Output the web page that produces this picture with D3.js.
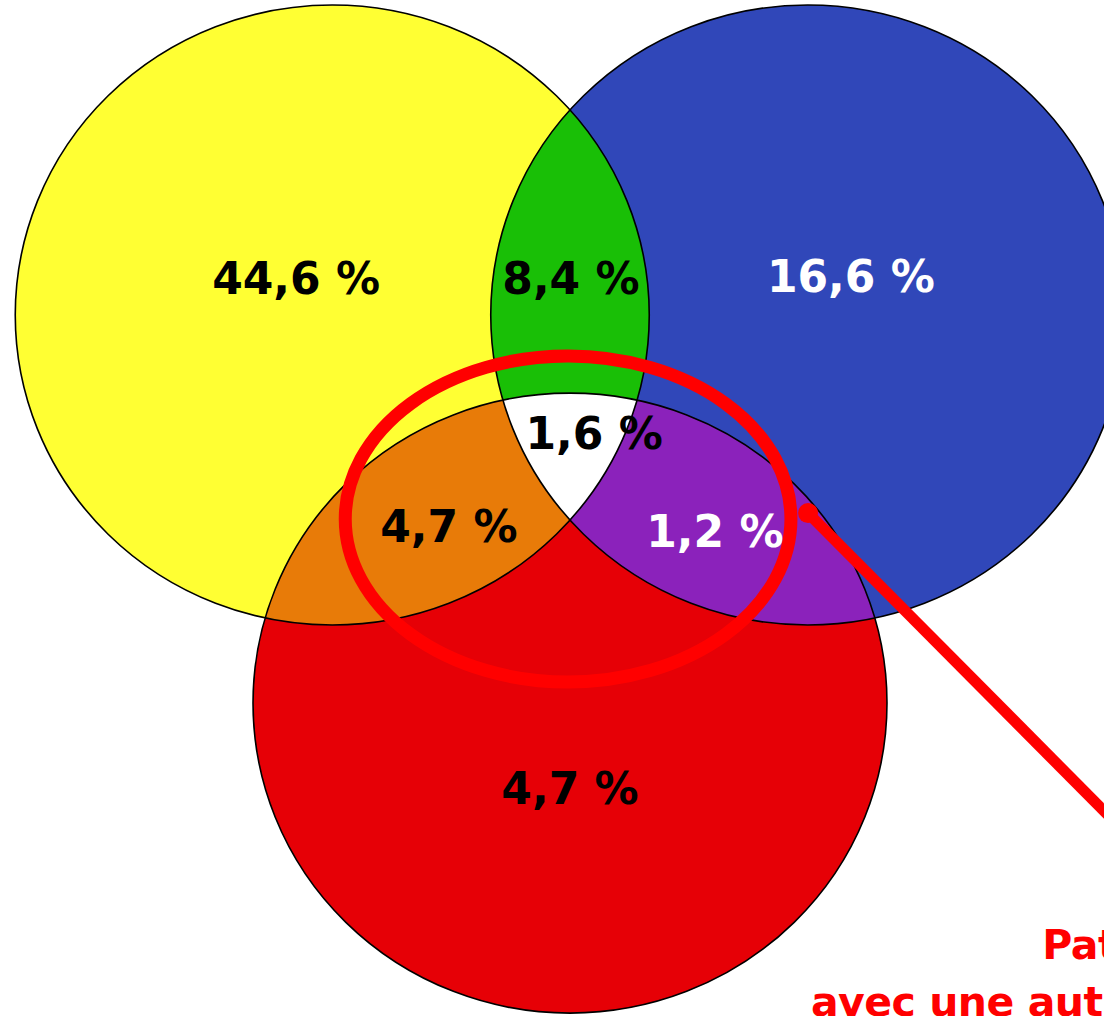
<!DOCTYPE html>
<html>
<head>
<meta charset="utf-8">
<script src="https://cdn.jsdelivr.net/npm/d3@7"></script>
<style>
  html, body { margin: 0; padding: 0; background: #ffffff; overflow: hidden; }
  svg { display: block; }
</style>
</head>
<body>
<svg id="chart" width="1104" height="1016"></svg>
<script>
// ---------------- data ----------------
const setNames   = ["Y", "B", "R"];
const setColors  = ["#FFFF33", "#3047B9", "#E60006"];

const regionKeys   = ["Y", "B", "R", "YB", "YR", "BR", "YBR"];
const regionValues = [44.6, 16.6, 4.7, 8.4, 4.7, 1.2, 1.6];
const regionColors = ["#FFFF33", "#3047B9", "#E60006", "#19BF06", "#E87B08", "#8B22BB", "#FFFFFF"];
const regionTextColors = ["#000", "#fff", "#000", "#000", "#000", "#fff", "#000"];

const annotationLines = ["Patients", "avec une autre pathologie"];

// ---------------- layout (abstract units) ----------------
// circle centres in units of one radius
const setCx = [-0.75, 0.75, 0.0];
const setCy = [0.0, 0.0, 1.252];
// label anchor points for each region
const labelX = [-0.864, 0.886, 0.0, 0.003, -0.382, 0.457, 0.076];
const labelY = [-0.119, -0.126, 1.526, -0.119, 0.681, 0.697, 0.381];

const svg = d3.select("#chart");
const x = d3.scaleLinear().domain([-1, 1]).range([570 - 317, 570 + 317]);
const y = d3.scaleLinear().domain([-1, 1]).range([315 - 310, 315 + 310]);
const rx = x(1) - x(0), ry = y(1) - y(0);

const fr = d3.formatLocale({decimal: ",", thousands: " ", grouping: [3], currency: ["", " €"]});
const fmt = v => fr.format(".1f")(v) + " %";

const defs = svg.append("defs");
setNames.forEach((s, i) => {
  defs.append("clipPath").attr("id", "clip" + s)
    .append("ellipse")
    .attr("cx", x(setCx[i])).attr("cy", y(setCy[i]))
    .attr("rx", rx).attr("ry", ry);
});

const idx = k => setNames.indexOf(k);
function ellipseOf(g, k, fill) {
  const i = idx(k);
  return g.append("ellipse")
    .attr("cx", x(setCx[i])).attr("cy", y(setCy[i]))
    .attr("rx", rx).attr("ry", ry)
    .attr("fill", fill);
}

const fills = svg.append("g");
// single sets
regionKeys.forEach((k, r) => {
  const sets = k.split("");
  if (sets.length === 1) {
    ellipseOf(fills, k, regionColors[r]);
  }
});
// pair intersections
regionKeys.forEach((k, r) => {
  const sets = k.split("");
  if (sets.length === 2) {
    const g = fills.append("g").attr("clip-path", "url(#clip" + sets[0] + ")");
    ellipseOf(g, sets[1], regionColors[r]);
  }
});
// triple intersection
regionKeys.forEach((k, r) => {
  const sets = k.split("");
  if (sets.length === 3) {
    const g1 = fills.append("g").attr("clip-path", "url(#clip" + sets[0] + ")");
    const g2 = g1.append("g").attr("clip-path", "url(#clip" + sets[1] + ")");
    ellipseOf(g2, sets[2], regionColors[r]);
  }
});

// outlines
const outlines = svg.append("g");
setNames.forEach(s => {
  ellipseOf(outlines, s, "none").attr("stroke", "#000").attr("stroke-width", 1.6);
});

// annotation (red ellipse + pointer)
const ann = svg.append("g");
ann.append("ellipse")
  .attr("cx", x(-0.006)).attr("cy", y(0.658))
  .attr("rx", x(0.703) - x(0)).attr("ry", y(0.526) - y(0))
  .attr("fill", "none").attr("stroke", "#FF0000").attr("stroke-width", 13);
ann.append("line")
  .attr("x1", x(0.751)).attr("y1", y(0.639))
  .attr("x2", x(2.145)).attr("y2", y(2.074))
  .attr("stroke", "#FF0000").attr("stroke-width", 11);
ann.append("circle")
  .attr("cx", x(0.751)).attr("cy", y(0.639)).attr("r", 10)
  .attr("fill", "#FF0000");

// region labels
svg.append("g").selectAll("text")
  .data(regionKeys)
  .join("text")
  .attr("x", (d, i) => x(labelX[i]))
  .attr("y", (d, i) => y(labelY[i]))
  .attr("dy", "0.36em")
  .attr("text-anchor", "middle")
  .attr("font-family", "'DejaVu Sans', sans-serif")
  .attr("font-weight", "bold")
  .attr("font-size", 44)
  .attr("fill", (d, i) => regionTextColors[i])
  .text((d, i) => fmt(regionValues[i]));

// annotation text (runs off the right edge as in the reference)
const annX = [1.49, 0.76];
const annY = [2.077, 2.261];
svg.append("g").selectAll("text")
  .data(annotationLines)
  .join("text")
  .attr("x", (d, i) => x(annX[i]))
  .attr("y", (d, i) => y(annY[i]))
  .attr("font-family", "'DejaVu Sans', sans-serif")
  .attr("font-weight", "bold")
  .attr("font-size", 41)
  .attr("letter-spacing", -0.5)
  .attr("fill", "#FF0000")
  .text(d => d);
</script>
</body>
</html>
